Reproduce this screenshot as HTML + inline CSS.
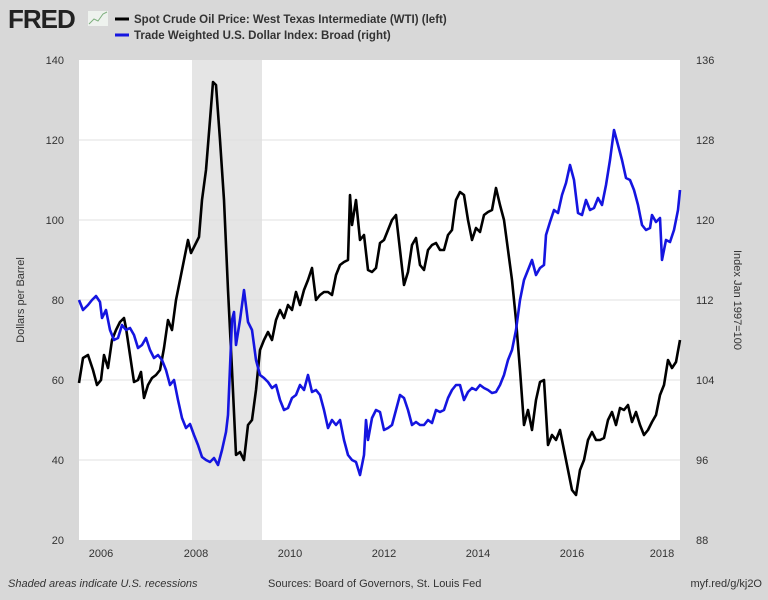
<!DOCTYPE html>
<html><head><style>
body{margin:0;width:768px;height:595px;background:#d8d8d8;font-family:"Liberation Sans",sans-serif;overflow:hidden}
</style></head><body>
<svg width="768" height="595" xmlns="http://www.w3.org/2000/svg" font-family="Liberation Sans, sans-serif">
<rect width="768" height="595" fill="#d8d8d8"/>
<text x="8" y="28" font-size="26" font-weight="bold" fill="#222" letter-spacing="-1">FRED</text>
<rect x="88" y="11" width="20" height="15" fill="#eef2ee"/>
<polyline points="89,24 94,19 98,21 103,14 107,12" fill="none" stroke="#7fb07f" stroke-width="1"/>
<line x1="115" y1="19" x2="129" y2="19" stroke="#000" stroke-width="3"/>
<text x="134" y="23" font-size="11.5" font-weight="bold" fill="#333">Spot Crude Oil Price: West Texas Intermediate (WTI) (left)</text>
<line x1="115" y1="35" x2="129" y2="35" stroke="#1515e0" stroke-width="3"/>
<text x="134" y="39" font-size="11.5" font-weight="bold" fill="#333">Trade Weighted U.S. Dollar Index: Broad (right)</text>
<rect x="79" y="60" width="601" height="480" fill="#fff"/>
<rect x="192" y="60" width="70" height="480" fill="#e5e5e5"/>
<g stroke="#e0e0e0" stroke-width="1">
<line x1="79" y1="140" x2="680" y2="140"/><line x1="79" y1="220" x2="680" y2="220"/><line x1="79" y1="300" x2="680" y2="300"/><line x1="79" y1="380" x2="680" y2="380"/><line x1="79" y1="460" x2="680" y2="460"/>
</g>
<g font-size="11" fill="#333" text-anchor="end">
<text x="64" y="64">140</text><text x="64" y="144">120</text><text x="64" y="224">100</text><text x="64" y="304">80</text><text x="64" y="384">60</text><text x="64" y="464">40</text><text x="64" y="544">20</text>
</g>
<g font-size="11" fill="#333" text-anchor="start">
<text x="696" y="64">136</text><text x="696" y="144">128</text><text x="696" y="224">120</text><text x="696" y="304">112</text><text x="696" y="384">104</text><text x="696" y="464">96</text><text x="696" y="544">88</text>
</g>
<g font-size="11" fill="#333" text-anchor="middle">
<text x="101" y="557">2006</text><text x="196" y="557">2008</text><text x="290" y="557">2010</text><text x="384" y="557">2012</text><text x="478" y="557">2014</text><text x="572" y="557">2016</text><text x="662" y="557">2018</text>
</g>
<text transform="translate(24,300) rotate(-90)" font-size="11" fill="#333" text-anchor="middle">Dollars per Barrel</text>
<text transform="translate(734,300) rotate(90)" font-size="11" fill="#333" text-anchor="middle">Index Jan 1997=100</text>
<polyline fill="none" stroke="#000" stroke-width="2.6" stroke-linejoin="round" points="79,383 83,358 88,355 93,370 97,385 101,380 104,355 108,368 112,340 116,330 120,322 124,318 126,328 130,355 134,382 138,380 141,372 144,398 148,385 152,378 156,375 160,370 164,348 168,320 172,330 176,300 180,280 184,260 188,240 191,253 195,245 199,237 202,200 206,170 210,120 213,82 216,85 220,140 224,200 228,290 232,370 236,455 240,452 244,460 248,425 252,420 256,390 260,350 264,340 268,332 272,340 276,320 280,310 284,318 288,305 292,310 296,292 300,305 304,290 308,280 312,268 316,300 320,295 324,292 328,292 332,295 336,275 340,265 344,262 348,260 350,195 352,225 356,200 360,240 364,235 368,270 372,272 376,268 380,243 384,240 388,230 392,220 396,215 400,250 404,285 408,272 412,245 416,238 420,265 424,270 428,250 432,245 436,243 440,250 444,250 448,235 452,230 456,200 460,192 464,195 468,220 472,240 476,228 480,232 484,215 488,212 492,210 496,188 500,205 504,220 508,250 512,280 516,320 520,370 524,425 528,410 532,430 536,400 540,382 544,380 548,445 552,435 556,440 560,430 564,450 568,470 572,490 576,495 580,470 584,460 588,440 592,432 596,440 600,440 604,438 608,420 612,412 616,425 620,408 624,410 628,405 632,422 636,412 640,425 644,435 648,430 652,422 656,415 660,395 664,385 668,360 672,368 676,362 680,340"/>
<polyline fill="none" stroke="#1515e0" stroke-width="2.6" stroke-linejoin="round" points="79,300 83,310 88,305 92,300 96,296 100,302 102,318 106,310 110,330 114,340 118,338 122,325 126,330 130,328 134,335 138,348 142,345 146,338 150,350 154,358 158,355 162,360 166,370 170,385 174,380 178,400 182,418 186,428 190,424 194,435 198,445 202,457 206,460 210,462 214,458 218,465 222,450 226,432 228,415 232,320 234,312 236,345 240,320 244,290 248,322 252,330 256,360 260,375 264,378 268,382 272,388 276,385 280,400 284,410 288,408 292,398 296,395 300,385 304,390 308,375 312,392 316,390 320,395 324,410 328,428 332,420 336,425 340,420 344,440 348,455 352,460 356,462 360,475 364,455 366,420 368,440 372,418 376,410 380,412 384,430 388,428 392,425 396,410 400,395 404,398 408,410 412,425 416,422 420,425 424,425 428,420 432,423 436,410 440,412 444,410 448,398 452,390 456,385 460,385 464,400 468,392 472,388 476,390 480,385 484,388 488,390 492,393 496,392 500,385 504,375 508,360 512,350 516,330 520,300 524,280 528,270 532,260 536,275 540,268 544,265 546,235 550,222 554,210 558,213 562,195 566,183 570,165 574,180 578,213 582,215 586,200 590,210 594,208 598,198 602,205 606,185 610,160 614,130 618,145 622,160 626,178 630,180 634,190 638,205 642,225 646,230 650,228 652,215 656,222 660,218 662,260 666,240 670,242 674,230 678,210 680,190"/>
<text x="8" y="587" font-size="11" font-style="italic" fill="#333">Shaded areas indicate U.S. recessions</text>
<text x="268" y="587" font-size="11" fill="#333">Sources: Board of Governors, St. Louis Fed</text>
<text x="762" y="587" font-size="11" fill="#333" text-anchor="end">myf.red/g/kj2O</text>
</svg>
</body></html>
